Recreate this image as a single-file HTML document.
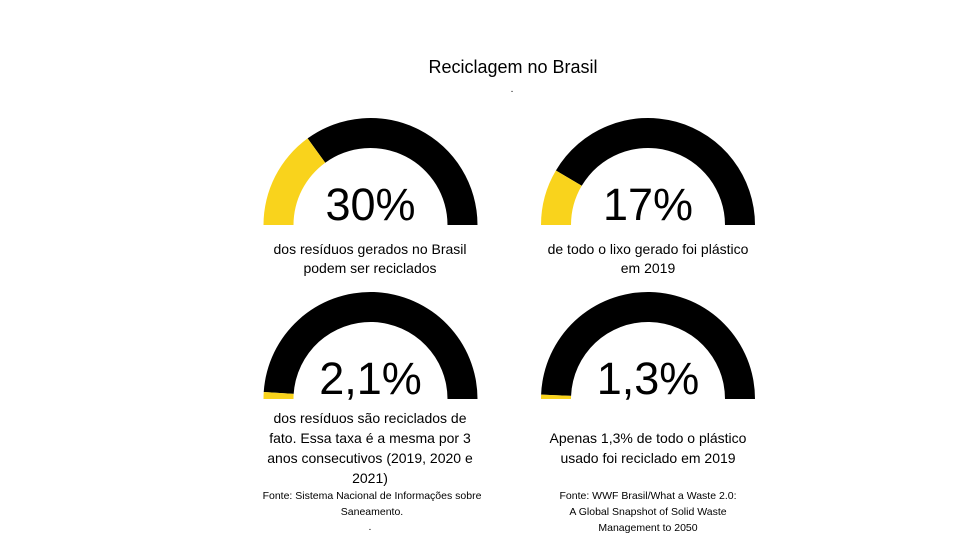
<!DOCTYPE html>
<html><head><meta charset="utf-8"><style>
html,body{margin:0;padding:0;background:#fff;}
svg{display:block;font-family:"Liberation Sans",sans-serif;}
</style></head><body>
<svg id="chart" width="980" height="551" viewBox="0 0 980 551">
<text x="513" y="73" text-anchor="middle" font-size="18" fill="#000">Reciclagem no Brasil</text>
<text x="512" y="92" text-anchor="middle" font-size="10" fill="#000">.</text>
<g id="gauges"></g>
<g font-size="14" fill="#000" text-anchor="middle">
<text x="370" y="254">dos resíduos gerados no Brasil</text>
<text x="370" y="273">podem ser reciclados</text>
<text x="648" y="254">de todo o lixo gerado foi plástico</text>
<text x="648" y="273">em 2019</text>
<text x="370" y="423">dos resíduos são reciclados de</text>
<text x="370" y="443">fato. Essa taxa é a mesma por 3</text>
<text x="370" y="463">anos consecutivos (2019, 2020 e</text>
<text x="370" y="483">2021)</text>
<text x="648" y="443">Apenas 1,3% de todo o plástico</text>
<text x="648" y="463">usado foi reciclado em 2019</text>
</g>
<g font-size="10.5" fill="#000" text-anchor="middle">
<text x="372" y="499">Fonte: Sistema Nacional de Informações sobre</text>
<text x="372" y="515">Saneamento.</text>
<text x="370" y="530">.</text>
<text x="648" y="499">Fonte: WWF Brasil/What a Waste 2.0:</text>
<text x="648" y="515">A Global Snapshot of Solid Waste</text>
<text x="648" y="531">Management to 2050</text>
</g>
</svg>
<script>
const gaugeValues = [30, 17, 2.1, 1.3];
const gaugeLabels = ["30%", "17%", "2,1%", "1,3%"];
const cxs = [370.5, 648, 370.5, 648];
const cys = [225, 225, 399, 399];
const R = 107, r = 77;
const NS = "http://www.w3.org/2000/svg";
const g = document.getElementById("gauges");
function pt(cx, cy, rad, pct) {
  const a = Math.PI * (1 - pct / 100);
  return [cx + rad * Math.cos(a), cy - rad * Math.sin(a)];
}
function arcPath(cx, cy, p0, p1) {
  const a = pt(cx, cy, R, p0), b = pt(cx, cy, R, p1), c = pt(cx, cy, r, p1), d = pt(cx, cy, r, p0);
  return `M${a[0]},${a[1]} A${R},${R} 0 0 1 ${b[0]},${b[1]} L${c[0]},${c[1]} A${r},${r} 0 0 0 ${d[0]},${d[1]} Z`;
}
gaugeValues.forEach((v, i) => {
  const bg = document.createElementNS(NS, "path");
  bg.setAttribute("d", arcPath(cxs[i], cys[i], v, 100));
  bg.setAttribute("fill", "#000");
  
  
  g.appendChild(bg);
  const fg = document.createElementNS(NS, "path");
  fg.setAttribute("d", arcPath(cxs[i], cys[i], 0, v));
  fg.setAttribute("fill", "#f9d31c");
  
  
  g.appendChild(fg);
  const t = document.createElementNS(NS, "text");
  t.setAttribute("x", cxs[i]);
  t.setAttribute("y", cys[i] - 5);
  t.setAttribute("text-anchor", "middle");
  t.setAttribute("font-size", "45");
  t.textContent = gaugeLabels[i];
  
  
  g.appendChild(t);
});
</script>
</body></html>
